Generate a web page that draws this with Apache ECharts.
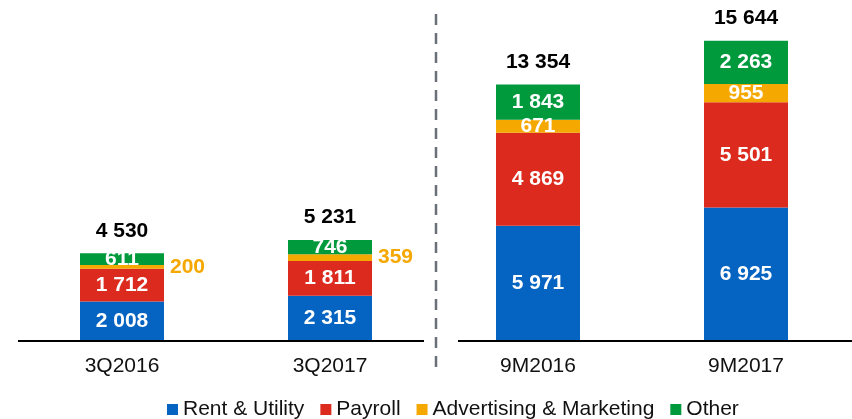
<!DOCTYPE html>
<html>
<head>
<meta charset="utf-8">
<script src="https://cdn.jsdelivr.net/npm/echarts@6/dist/echarts.min.js"></script>
<style>
  html, body { margin: 0; padding: 0; background: #fff; }
  #chart { width: 852px; height: 419px; }
</style>
</head>
<body>
<div id="chart"></div>
<script>
const categories = ['3Q2016', '3Q2017', '9M2016', '9M2017'];
const rentUtility = [2008, 2315, 5971, 6925];
const payroll = [1712, 1811, 4869, 5501];
const advertising = [200, 359, 671, 955];
const other = [611, 746, 1843, 2263];
const totals = [4530, 5231, 13354, 15644];

const FONT = '"Liberation Sans", Arial, sans-serif';
const colors = {
  rent: '#0563C1',
  payroll: '#DC2A1E',
  adv: '#F5A800',
  other: '#009A3D'
};

// thousands with a space, like "13 354"
const fmt = v => String(v).replace(/\B(?=(\d{3})+(?!\d))/g, ' ');

const chart = echarts.init(document.getElementById('chart'));

const inLabel = {
  show: true,
  position: 'inside',
  color: '#fff',
  fontSize: 21,
  fontWeight: 'bold',
  fontFamily: FONT,
  formatter: p => fmt(p.value)
};

const advData = advertising.map((v, i) => {
  // the two quarterly bars are too thin, their labels sit outside in orange
  if (i < 2) {
    return {
      value: v,
      label: { position: 'right', distance: 6, color: colors.adv }
    };
  }
  return v;
});

chart.setOption({
  animation: false,
  textStyle: { fontFamily: FONT },
  legend: {
    data: ['Rent & Utility', 'Payroll', 'Advertising & Marketing', 'Other'],
    left: 162,
    top: 394,
    icon: 'rect',
    itemWidth: 11,
    itemHeight: 11,
    itemGap: 16,
    textStyle: { fontSize: 21, color: '#111', fontFamily: FONT }
  },
  grid: { left: 18, right: 2, top: 34, bottom: 79 },
  xAxis: {
    type: 'category',
    data: categories,
    axisLine: { show: false },
    axisTick: { show: false },
    axisLabel: { color: '#111', fontSize: 21, margin: 16, fontFamily: FONT }
  },
  yAxis: {
    type: 'value',
    min: 0,
    max: 16000,
    show: false,
    splitLine: { show: false }
  },
  series: [
    {
      name: 'Rent & Utility', type: 'bar', stack: 'cost', barWidth: 84,
      itemStyle: { color: colors.rent }, label: inLabel, data: rentUtility
    },
    {
      name: 'Payroll', type: 'bar', stack: 'cost',
      itemStyle: { color: colors.payroll }, label: inLabel, data: payroll
    },
    {
      name: 'Advertising & Marketing', type: 'bar', stack: 'cost',
      itemStyle: { color: colors.adv }, label: inLabel, data: advData
    },
    {
      name: 'Other', type: 'bar', stack: 'cost',
      itemStyle: { color: colors.other }, label: inLabel, data: other
    },
    {
      name: 'Total', type: 'bar', stack: 'cost',
      itemStyle: { color: 'transparent' },
      data: totals.map(() => 0),
      label: {
        show: true,
        position: 'top',
        distance: 12,
        color: '#000',
        fontSize: 21,
        fontWeight: 'bold',
        fontFamily: FONT,
        formatter: p => fmt(totals[p.dataIndex])
      }
    }
  ],
  graphic: [
    {
      type: 'line', silent: true,
      shape: { x1: 18, y1: 341, x2: 424, y2: 341 },
      style: { stroke: '#000', lineWidth: 2 }
    },
    {
      type: 'line', silent: true,
      shape: { x1: 458, y1: 341, x2: 852, y2: 341 },
      style: { stroke: '#000', lineWidth: 2 }
    },
    {
      type: 'line', silent: true,
      shape: { x1: 436, y1: 14, x2: 436, y2: 367 },
      style: { stroke: '#6b7078', lineWidth: 2.5, lineDash: [11, 8] }
    }
  ]
});

window.addEventListener('resize', () => chart.resize());
</script>
</body>
</html>
